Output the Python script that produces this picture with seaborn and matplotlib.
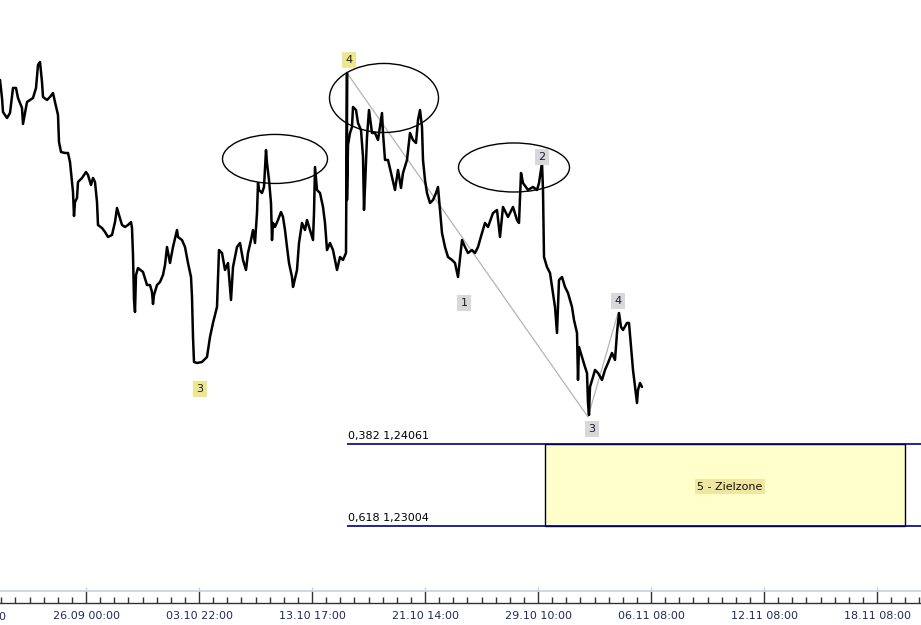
import matplotlib
matplotlib.use("Agg")
import matplotlib.pyplot as plt
import matplotlib.patches as mpatches
from matplotlib.ticker import FixedLocator
import numpy as np
import pandas as pd
import seaborn as sns

# hourly bars (index) and close prices
bars = [0, 2, 3, 7, 10, 13, 16, 18, 22, 23, 25, 27, 30, 33, 36, 38, 40, 42, 43, 47,
        50, 53, 55, 58, 59, 61, 65, 68, 70, 73, 74, 75, 77, 78, 82, 86, 88, 91, 93, 95,
        97, 98, 102, 105, 108, 112, 115, 117, 119, 122, 125, 128, 131, 132, 133, 134, 135, 136, 138, 143,
        147, 150, 152, 153, 154, 157, 160, 163, 165, 167, 170, 173, 177, 178, 182, 185, 188, 191, 192, 193,
        194, 197, 202, 207, 210, 213, 217, 218, 219, 222, 225, 228, 231, 233, 237, 240, 243, 246, 248, 251,
        253, 255, 257, 258, 259, 262, 264, 266, 267, 269, 271, 272, 273, 275, 278, 281, 283, 285, 287, 289,
        292, 293, 294, 297, 299, 302, 305, 307, 310, 313, 314, 315, 317, 320, 323, 325, 327, 330, 333, 337,
        340, 343, 346, 347, 347, 348, 350, 352, 353, 356, 358, 361, 363, 364, 365, 367, 369, 372, 375, 378,
        382, 383, 385, 388, 392, 395, 398, 401, 403, 407, 410, 413, 416, 418, 420, 422, 423, 425, 427, 430,
        433, 436, 438, 440, 442, 445, 448, 452, 455, 458, 462, 465, 468, 472, 475, 478, 482, 485, 488, 493,
        497, 500, 503, 508, 513, 517, 519, 521, 523, 528, 533, 537, 539, 542, 543, 544, 547, 550, 553, 555,
        557, 559, 562, 565, 568, 572, 574, 577, 578, 579, 582, 585, 587, 588, 589, 590, 593, 595, 598, 602,
        605, 608, 612, 615, 617, 619, 621, 623, 627, 629, 631, 633, 635, 637, 638, 640, 642]
close = [1.28753, 1.28521, 1.28340, 1.28263, 1.28327, 1.28650, 1.28650, 1.28521, 1.28392, 1.28186,
         1.28327, 1.28469, 1.28495, 1.28521, 1.28650, 1.28946, 1.28985, 1.28727, 1.28534, 1.28495,
         1.28534, 1.28585, 1.28469, 1.28302, 1.27954, 1.27825, 1.27812, 1.27812, 1.27696, 1.27309,
         1.27000, 1.27180, 1.27232, 1.27438, 1.27490, 1.27567, 1.27528, 1.27399, 1.27490, 1.27438,
         1.27180, 1.26884, 1.26845, 1.26794, 1.26729, 1.26755, 1.26922, 1.27103, 1.27013, 1.26884,
         1.26858, 1.26884, 1.26922, 1.26845, 1.26497, 1.25917, 1.25762, 1.26239, 1.26329, 1.26278,
         1.26110, 1.26110, 1.26020, 1.25865, 1.25981, 1.26110, 1.26149, 1.26239, 1.26368, 1.26600,
         1.26394, 1.26600, 1.26819, 1.26729, 1.26690, 1.26600, 1.26394, 1.26213, 1.25956, 1.25440,
         1.25118, 1.25105, 1.25118, 1.25182, 1.25440, 1.25621, 1.25827, 1.26175, 1.26561, 1.26523,
         1.26304, 1.26394, 1.25917, 1.26342, 1.26600, 1.26652, 1.26433, 1.26304, 1.26523, 1.26690,
         1.26819, 1.26652, 1.27038, 1.27425, 1.27335, 1.27296, 1.27374, 1.27850, 1.27683, 1.27464,
         1.27167, 1.26690, 1.26910, 1.26858, 1.26948, 1.27051, 1.26987, 1.26819, 1.26600, 1.26394,
         1.26213, 1.26085, 1.26136, 1.26304, 1.26652, 1.26910, 1.26819, 1.26948, 1.26819, 1.26690,
         1.27038, 1.27631, 1.27335, 1.27296, 1.27116, 1.26910, 1.26561, 1.26652, 1.26561, 1.26304,
         1.26471, 1.26433, 1.26523, 1.28843, 1.27206, 1.27915, 1.28070, 1.28147, 1.28405, 1.28366,
         1.28199, 1.28108, 1.27760, 1.27077, 1.27374, 1.28018, 1.28366, 1.28070, 1.28070, 1.27979,
         1.28327, 1.28070, 1.27722, 1.27722, 1.27502, 1.27335, 1.27593, 1.27361, 1.27554, 1.27722,
         1.28070, 1.27979, 1.27941, 1.28237, 1.28366, 1.28147, 1.27722, 1.27464, 1.27296, 1.27167,
         1.27206, 1.27296, 1.27374, 1.27077, 1.26781, 1.26600, 1.26471, 1.26433, 1.26394, 1.26213,
         1.26690, 1.26600, 1.26523, 1.26561, 1.26523, 1.26600, 1.26781, 1.26910, 1.26858, 1.27038,
         1.27077, 1.26729, 1.27116, 1.26987, 1.27116, 1.26948, 1.26910, 1.27554, 1.27425, 1.27335,
         1.27374, 1.27335, 1.27425, 1.27683, 1.27335, 1.26471, 1.26342, 1.26265, 1.26007, 1.25827,
         1.25492, 1.26175, 1.26213, 1.26085, 1.26007, 1.25827, 1.25659, 1.25492, 1.24886, 1.25311,
         1.25182, 1.25053, 1.24976, 1.24589, 1.24435, 1.24796, 1.24924, 1.25015, 1.24976, 1.24886,
         1.25015, 1.25105, 1.25234, 1.25144, 1.25492, 1.25749, 1.25569, 1.25530, 1.25621, 1.25621,
         1.25311, 1.25015, 1.24796, 1.24589, 1.24757, 1.24847, 1.24796]

# elliott wave count
wave_labels = ["3", "4", "1", "2", "3", "4"]
wave_bars = [200, 349, 464, 542, 592, 618]
wave_prices = [1.24770, 1.29011, 1.25878, 1.27760, 1.24254, 1.25904]
wave_colors = ["#ede88f", "#ede88f", "#d8d8d8", "#d8d8d8", "#d8d8d8", "#d8d8d8"]

# thin grey wave line 4 -> 3 -> 4
path_bars = [347, 588, 618]
path_prices = [1.28843, 1.24409, 1.25749]

# circled tops: centre bar, centre price, width (bars), height (price)
ell_bars = [275, 384, 514]
ell_prices = [1.27735, 1.28521, 1.27625]
ell_widths = [105, 109, 111]
ell_heights = [0.00632, 0.00890, 0.00632]

# fibonacci target zone
fib_ratios = ["0,382", "0,618"]
fib_levels = [1.24061, 1.23004]
fib_start = 347
zone_start, zone_end = 545, 905

tick_bars = [86, 199, 312, 425, 538, 651, 764, 877]
tick_labels = ["26.09 00:00", "03.10 22:00", "13.10 17:00", "21.10 14:00",
               "29.10 10:00", "06.11 08:00", "12.11 08:00", "18.11 08:00"]
cut_label = ("18.09 05:00", -27)

df = pd.DataFrame({"bar": bars, "close": close})

sns.set_style("white")
plt.rcParams["font.family"] = ["DejaVu Sans"]

fig = plt.figure(figsize=(9.21, 6.25), dpi=100)
ax = fig.add_axes([0, 22 / 625, 1, 603 / 625])

sns.lineplot(data=df, x="bar", y="close", sort=False, estimator=None,
             color="black", linewidth=1.8, ax=ax)

ax.plot(path_bars, path_prices, color="#b4b4b4", linewidth=0.9, zorder=1)

for cx, cy, w, h in zip(ell_bars, ell_prices, ell_widths, ell_heights):
    ax.add_patch(mpatches.Ellipse((cx, cy), w, h, fill=False, edgecolor="black", linewidth=1))

ax.add_patch(mpatches.Rectangle((zone_start, fib_levels[1]), zone_end - zone_start,
                                fib_levels[0] - fib_levels[1], facecolor="#ffffcc",
                                edgecolor="black", linewidth=1, zorder=2))
ax.hlines(fib_levels, fib_start, 940, color="#000080", linewidth=1.2, zorder=3)
for r, lv in zip(fib_ratios, fib_levels):
    ax.annotate(f"{r} {str(lv).replace('.', ',')}", (fib_start, lv), xytext=(1, 2),
                textcoords="offset points", fontsize=8, color="black", va="bottom")

ax.text((zone_start + zone_end) / 2 + 5, sum(fib_levels) / 2 - 0.0002, "5 - Zielzone",
        fontsize=8, ha="center", va="center", color="#111111",
        bbox=dict(boxstyle="square,pad=0.25", facecolor="#efe7a0", edgecolor="none"), zorder=4)

for lab, bx, py, c in zip(wave_labels, wave_bars, wave_prices, wave_colors):
    ax.text(bx, py, lab, fontsize=8, ha="center", va="center", color="#1a1a30",
            bbox=dict(boxstyle="square,pad=0.3", facecolor=c, edgecolor="none"), zorder=5)

ax.set_xlim(0, 921)
ax.set_ylim(1.22011, 1.29784)
ax.set_xlabel("")
ax.set_ylabel("")
ax.set_yticks([])

ax.xaxis.set_major_locator(FixedLocator(tick_bars))
ax.set_xticklabels(tick_labels)
ax.xaxis.set_minor_locator(FixedLocator(np.arange(-27, 930, 113 / 8)))
ax.tick_params(axis="x", which="both", bottom=True, top=False)
ax.tick_params(axis="x", which="major", direction="in", length=8.5, width=1, color="#333333",
               labelsize=8, labelcolor="#1f2a5c", pad=6)
ax.tick_params(axis="x", which="minor", direction="in", length=4.3, width=1, color="#333333")
ax.text(cut_label[1], -0.0232, cut_label[0], transform=ax.get_xaxis_transform(),
        ha="center", va="center", fontsize=8, color="#1f2a5c", clip_on=False)

for s in ["left", "top", "right"]:
    ax.spines[s].set_visible(False)
ax.spines["bottom"].set_color("#333333")
ax.spines["bottom"].set_linewidth(1)

# light separator above the time scale
ax.plot([0, 1], [0.0207, 0.0207], transform=ax.transAxes, color="#c9d0dc", linewidth=1.2)
ax.vlines(tick_bars, 0.0207, 0.026, transform=ax.get_xaxis_transform(), color="#c9d0dc", linewidth=1)

fig.savefig("out.png", dpi=100)
plt.close(fig)
